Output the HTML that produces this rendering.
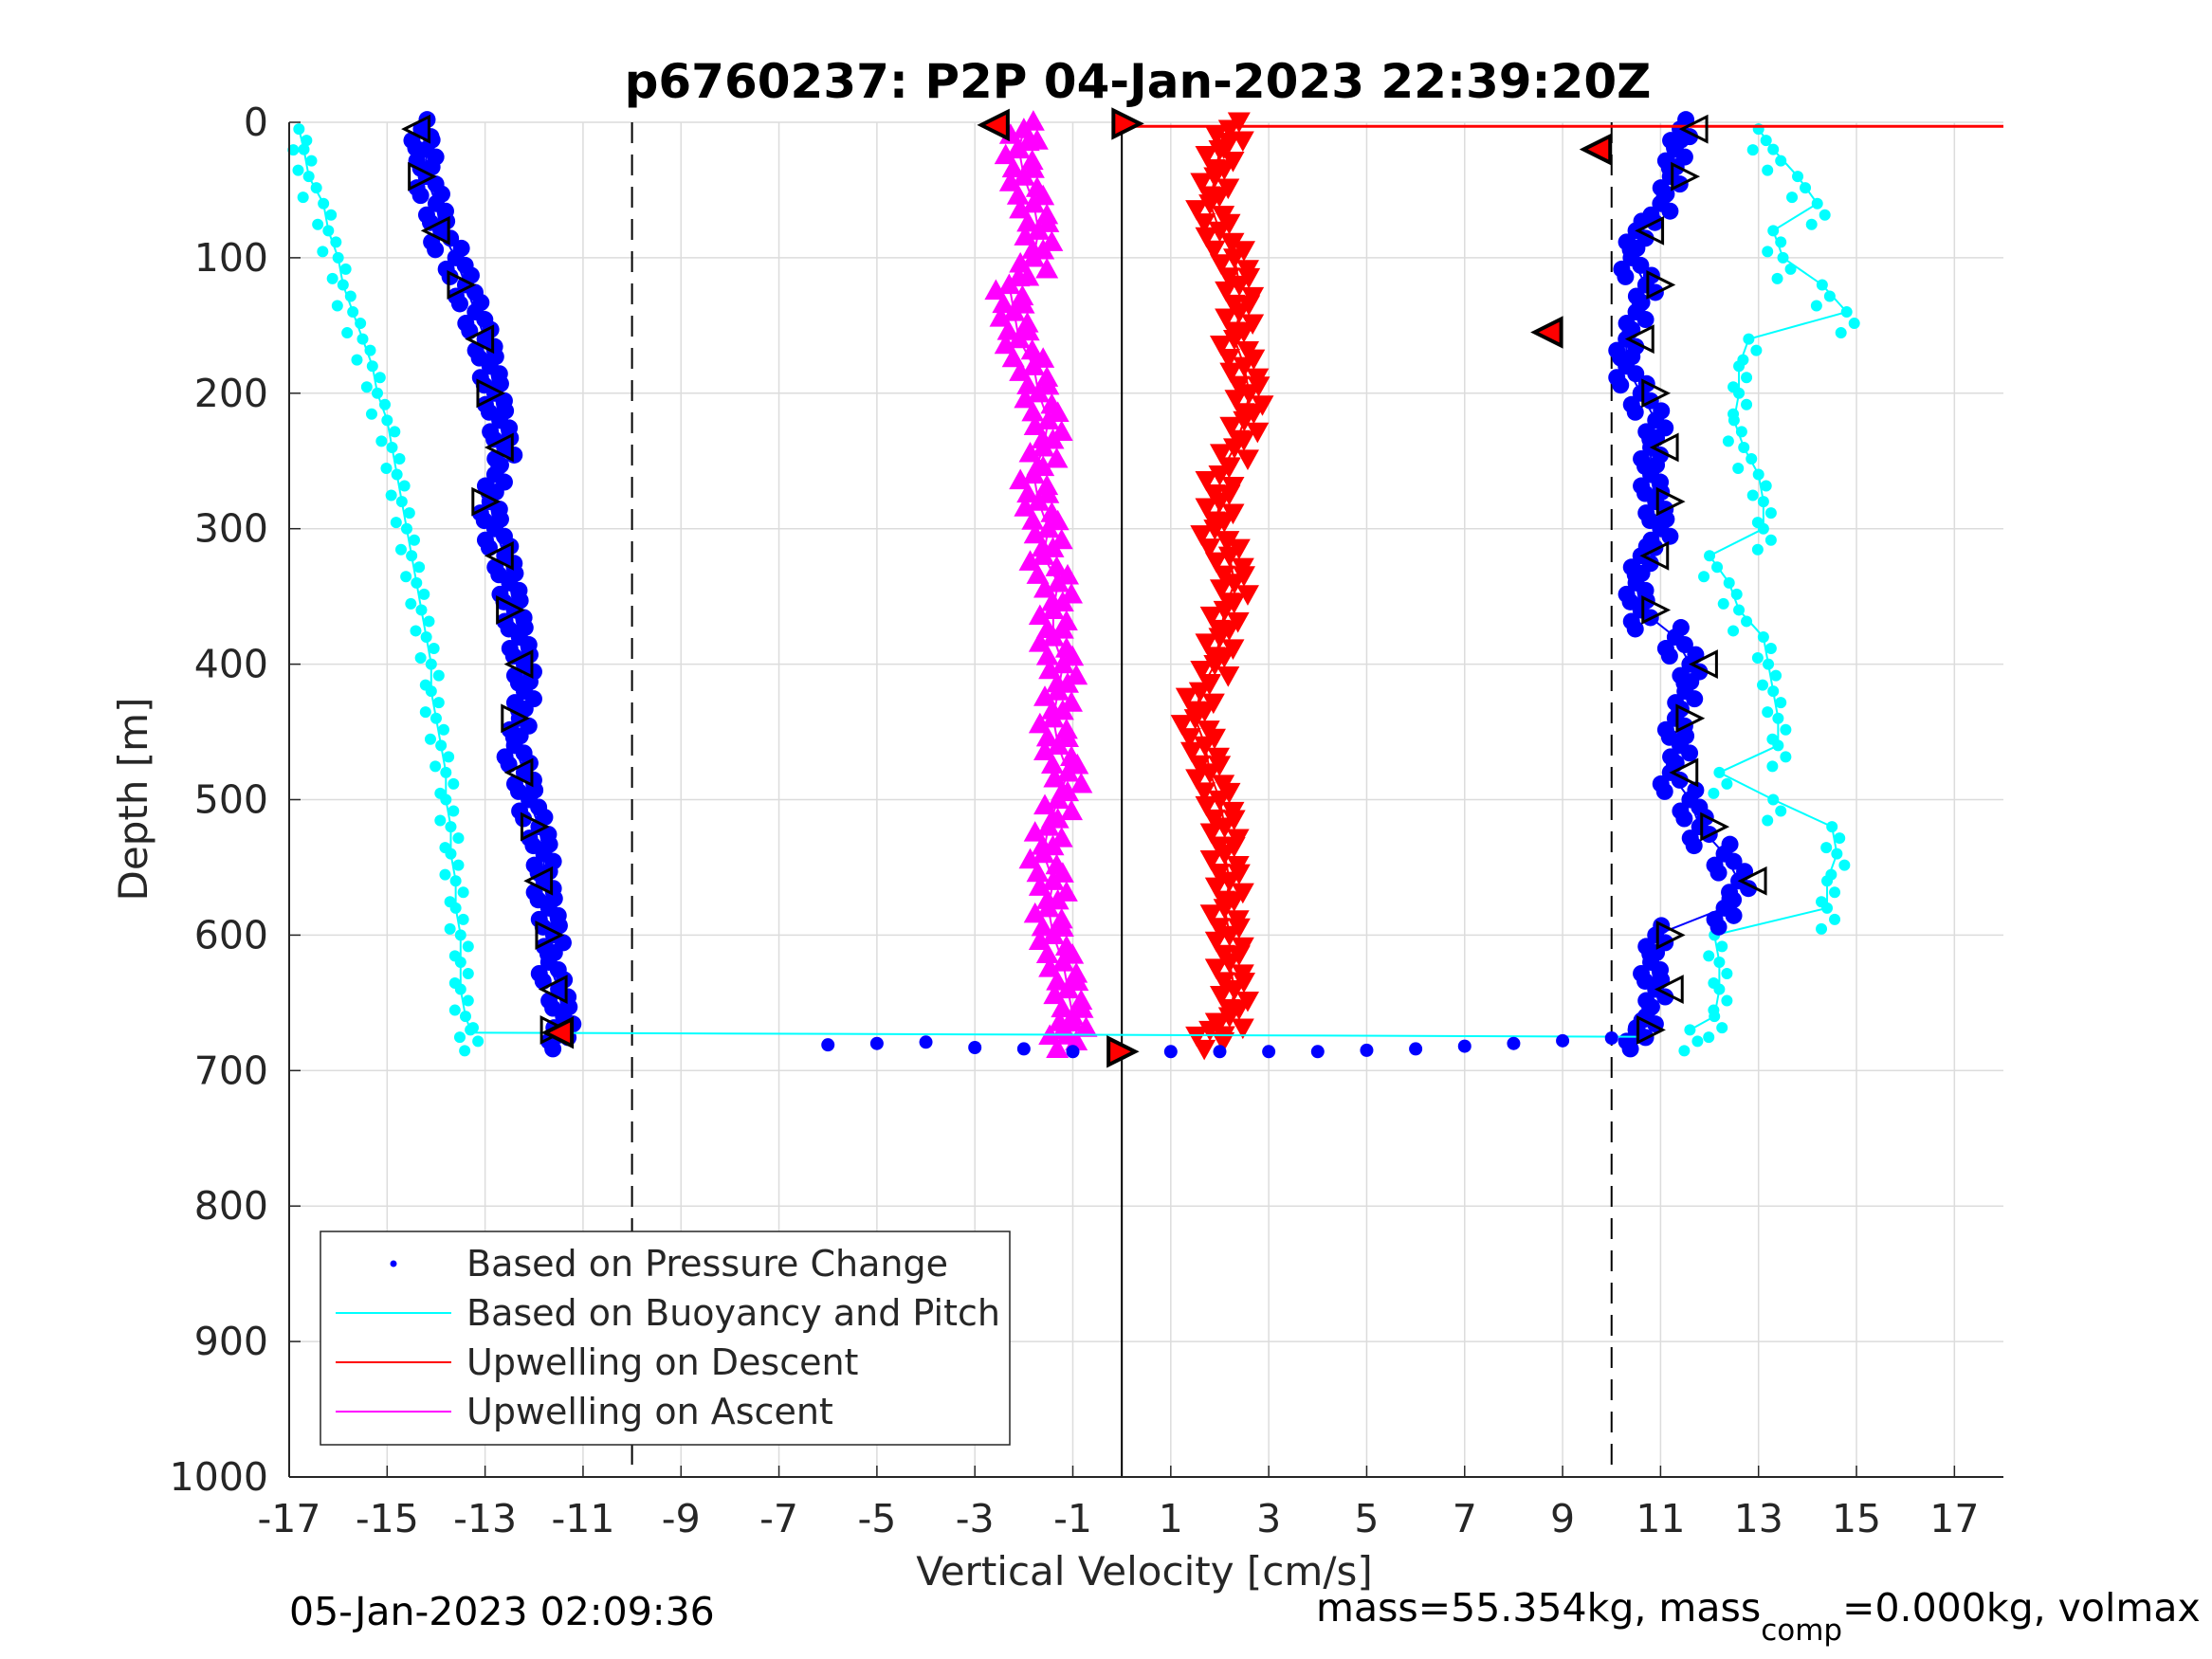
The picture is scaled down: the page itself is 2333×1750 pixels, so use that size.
<!DOCTYPE html>
<html><head><meta charset="utf-8"><style>
body{margin:0;background:#fff;}
svg{display:block;font-family:"DejaVu Sans","Liberation Sans",sans-serif;}
</style></head><body>
<svg id="chart" width="2333" height="1750" viewBox="0 0 2333 1750">
<rect width="2333" height="1750" fill="#fff"/>
<g id="grid"></g>
<g id="refs"></g>
<g id="series"></g>
<g id="axes"></g>
<text x="1200" y="103" text-anchor="middle" font-size="50" font-weight="bold">p6760237: P2P 04-Jan-2023 22:39:20Z</text>
<text transform="translate(155,843) rotate(-90)" text-anchor="middle" font-size="42" fill="#262626">Depth [m]</text>
<text x="1207" y="1672" text-anchor="middle" font-size="42" fill="#262626">Vertical Velocity [cm/s]</text>
<text x="305" y="1714" font-size="41">05-Jan-2023 02:09:36</text>
<text x="1388" y="1710" font-size="41">mass=55.354kg, mass<tspan font-size="31" dy="20">comp</tspan><tspan dy="-20">=0.000kg, volmax</tspan></text>
<g>
<rect x="338" y="1299" width="727" height="225" fill="#fff" stroke="#262626" stroke-width="1.5"/>
<circle cx="415" cy="1333" r="3.5" fill="#00f"/>
<text x="492" y="1346" font-size="38" fill="#262626">Based on Pressure Change</text>
<line x1="354" x2="476" y1="1385" y2="1385" stroke="#0ff" stroke-width="2"/>
<text x="492" y="1398" font-size="38" fill="#262626">Based on Buoyancy and Pitch</text>
<line x1="354" x2="476" y1="1437" y2="1437" stroke="#f00" stroke-width="2"/>
<text x="492" y="1450" font-size="38" fill="#262626">Upwelling on Descent</text>
<line x1="354" x2="476" y1="1489" y2="1489" stroke="#f0f" stroke-width="2"/>
<text x="492" y="1502" font-size="38" fill="#262626">Upwelling on Ascent</text>
</g>
</svg>
<script>
const depths=[5,20,40,60,80,100,120,140,160,180,200,220,240,260,280,300,320,340,360,380,400,420,440,460,480,500,520,540,560,580,600,620,640,660,670];
const pressureDescent=[-14.3,-14.2,-14.2,-14.0,-13.9,-13.6,-13.4,-13.2,-13.0,-12.9,-12.8,-12.7,-12.6,-12.8,-12.9,-12.8,-12.6,-12.5,-12.4,-12.3,-12.2,-12.2,-12.3,-12.4,-12.2,-12.1,-11.9,-11.8,-11.8,-11.7,-11.6,-11.7,-11.5,-11.4,-11.5];
const buoyancyDescent=[-16.8,-16.7,-16.6,-16.3,-16.2,-16.0,-15.9,-15.7,-15.5,-15.3,-15.2,-15.0,-14.9,-14.8,-14.7,-14.6,-14.5,-14.4,-14.3,-14.2,-14.1,-14.1,-14.0,-13.9,-13.8,-13.8,-13.7,-13.7,-13.6,-13.6,-13.5,-13.5,-13.5,-13.4,-13.3];
const pressureAscent=[11.4,11.3,11.2,11.0,10.5,10.4,10.7,10.5,10.3,10.3,10.6,10.9,10.8,10.8,10.9,11.0,10.6,10.5,10.6,11.3,11.6,11.5,11.3,11.4,11.2,11.6,11.8,12.3,12.6,12.3,10.9,10.8,10.9,10.7,10.5];
const buoyancyAscent=[13.0,13.3,13.8,14.2,13.3,13.5,14.3,14.8,12.8,12.6,12.6,12.5,12.7,13.0,13.1,13.1,12.0,12.4,12.6,13.1,13.2,13.3,13.4,13.4,12.2,13.3,14.5,14.6,14.4,14.4,12.1,12.2,12.2,12.1,11.6];
const upwellDescent=[2.2,2.0,1.9,1.8,2.0,2.3,2.4,2.4,2.3,2.5,2.6,2.5,2.3,2.0,2.0,1.9,2.2,2.3,2.1,2.0,1.9,1.6,1.5,1.7,1.8,2.0,2.1,2.1,2.2,2.1,2.2,2.2,2.3,2.2,1.8];
const upwellAscent=[-2.0,-2.1,-2.0,-1.8,-1.7,-1.8,-2.3,-2.2,-2.1,-1.8,-1.7,-1.5,-1.6,-1.8,-1.7,-1.5,-1.6,-1.3,-1.4,-1.4,-1.2,-1.3,-1.4,-1.3,-1.1,-1.3,-1.5,-1.6,-1.4,-1.5,-1.4,-1.2,-1.1,-1.0,-1.2];
const bottomVel=[-6,-5,-4,-3,-2,-1,0,1,2,3,4,5,6,7,8,9,10];
const bottomDepth=[681,680,679,683,684,686,687,686,686,686,686,685,684,682,680,678,676];
const xTicks=[-17,-15,-13,-11,-9,-7,-5,-3,-1,1,3,5,7,9,11,13,15,17];
const yTicks=[0,100,200,300,400,500,600,700,800,900,1000];

const L=305,R=2113,T=129,B=1558,XMIN=-17,XMAX=18,YMIN=0,YMAX=1000;
const sx=v=>L+(v-XMIN)/(XMAX-XMIN)*(R-L);
const sy=d=>T+(d-YMIN)/(YMAX-YMIN)*(B-T);
const NS="http://www.w3.org/2000/svg";
function mk(tag,attrs,parent){const e=document.createElementNS(NS,tag);for(const k in attrs)e.setAttribute(k,attrs[k]);parent.appendChild(e);return e;}
const grid=document.getElementById('grid'),axes=document.getElementById('axes'),series=document.getElementById('series'),refs=document.getElementById('refs');

xTicks.forEach(t=>{
 const g=mk('line',{x1:sx(t),x2:sx(t),y1:T,y2:B,stroke:'#dcdcdc','stroke-width':1.5},grid);
 
 
 const lb=mk('text',{x:sx(t),y:B+58,'text-anchor':'middle','font-size':41,fill:'#262626'},axes);
 lb.textContent=t;
 
 
 mk('line',{x1:sx(t),x2:sx(t),y1:B,y2:B-12,stroke:'#262626','stroke-width':1.5},axes);
});
yTicks.forEach(t=>{
 const g=mk('line',{x1:L,x2:R,y1:sy(t),y2:sy(t),stroke:'#dcdcdc','stroke-width':1.5},grid);
 
 
 const lb=mk('text',{x:L-22,y:sy(t)+14,'text-anchor':'end','font-size':41,fill:'#262626'},axes);
 lb.textContent=t;
 
 
 mk('line',{x1:L,x2:L+12,y1:sy(t),y2:sy(t),stroke:'#262626','stroke-width':1.5},axes);
});
mk('line',{x1:L,x2:L,y1:T,y2:B,stroke:'#262626','stroke-width':2},axes);
mk('line',{x1:L,x2:R,y1:B,y2:B,stroke:'#262626','stroke-width':2},axes);

[-10,10].forEach(v=>{const l=mk('line',{x1:sx(v),x2:sx(v),y1:T,y2:B,stroke:'#000','stroke-width':2,'stroke-dasharray':'22,12'},refs);
 
 });
const z=mk('line',{x1:sx(0),x2:sx(0),y1:T,y2:B,stroke:'#000','stroke-width':2},refs);



function pts(v){return depths.map((d,i)=>sx(v[i])+','+sy(d)).join(' ');}
function line(v,color,name){const p=mk('polyline',{points:pts(v),fill:'none',stroke:color,'stroke-width':2},series);
 
 }
function dots(v,name){const g=mk('g',{},series);
 
 
 depths.forEach((d,i)=>{const x=sx(v[i]),y=sy(d);
  [[0,0],[10,8],[-10,12],[6,-10],[-6,20]].forEach(o=>mk('circle',{cx:x+o[0],cy:y+o[1],r:9,fill:'#00f'},g));});}
function cdots(v,name){const g=mk('g',{},series);
 
 
 depths.forEach((d,i)=>{mk('circle',{cx:sx(v[i]),cy:sy(d),r:6,fill:'#0ff'},g);mk('circle',{cx:sx(v[i])+8,cy:sy(d)+12,r:6,fill:'#0ff'},g);mk('circle',{cx:sx(v[i])-6,cy:sy(d)+22,r:6,fill:'#0ff'},g);});}
function tris(v,color,up,name){const g=mk('g',{},series);
 
 
 depths.forEach((d,i)=>{const x0=sx(v[i]),y0=sy(d),s=12;
  [[0,0],[-14,6],[14,12],[-6,20],[10,-8]].forEach(o=>{const x=x0+o[0],y=y0+o[1];
  const p=up?`${x},${y-s} ${x-s},${y+s*0.8} ${x+s},${y+s*0.8}`:`${x},${y+s} ${x-s},${y-s*0.8} ${x+s},${y-s*0.8}`;
  mk('polygon',{points:p,fill:color},g);});});}

line(buoyancyDescent,'#0ff','buoyancy-descent-line');cdots(buoyancyDescent,'buoyancy-descent-points');
line(buoyancyAscent,'#0ff','buoyancy-ascent-line');cdots(buoyancyAscent,'buoyancy-ascent-points');
line(pressureDescent,'#00f','pressure-descent-line');dots(pressureDescent,'pressure-descent-points');
line(pressureAscent,'#00f','pressure-ascent-line');dots(pressureAscent,'pressure-ascent-points');
line(upwellAscent,'#f0f','upwelling-ascent-line');tris(upwellAscent,'#f0f',true,'upwelling-ascent-points');
line(upwellDescent,'#f00','upwelling-descent-line');tris(upwellDescent,'#f00',false,'upwelling-descent-points');
// bottom turnaround
mk('line',{x1:sx(-13.3),x2:sx(10.5),y1:sy(672),y2:sy(675),stroke:'#0ff','stroke-width':2},series);
const bg=mk('g',{},series);


bottomVel.forEach((v,i)=>mk('circle',{cx:sx(v),cy:sy(bottomDepth[i]),r:7,fill:'#00f'},bg));
// top surface red line
mk('line',{x1:sx(0),x2:sx(18),y1:sy(3),y2:sy(3),stroke:'#f00','stroke-width':3},series);
// turn markers (open triangles)
const tg=mk('g',{},series);


depths.forEach((d,i)=>{if(i%2)return;[pressureDescent[i],pressureAscent[i]].forEach((v,j)=>{
 const x=sx(v)+(j?15:-5),y=sy(d),s=13,dir=(i/2)%2?1:-1;
 mk('polygon',{points:`${x+dir*s},${y} ${x-dir*s},${y-s} ${x-dir*s},${y+s}`,fill:'none',stroke:'#000','stroke-width':3},tg);});});
[[ -2.6,2,-1],[0.1,1,1],[9.7,20,-1],[8.7,155,-1],[-11.5,672,-1],[0,686,1]].forEach(m=>{
 const x=sx(m[0]),y=sy(m[1]),s=14,dir=m[2];
 mk('polygon',{points:`${x+dir*s},${y} ${x-dir*s},${y-s} ${x-dir*s},${y+s}`,fill:'#f00',stroke:'#000','stroke-width':4},tg);});
</script>
</body></html>
